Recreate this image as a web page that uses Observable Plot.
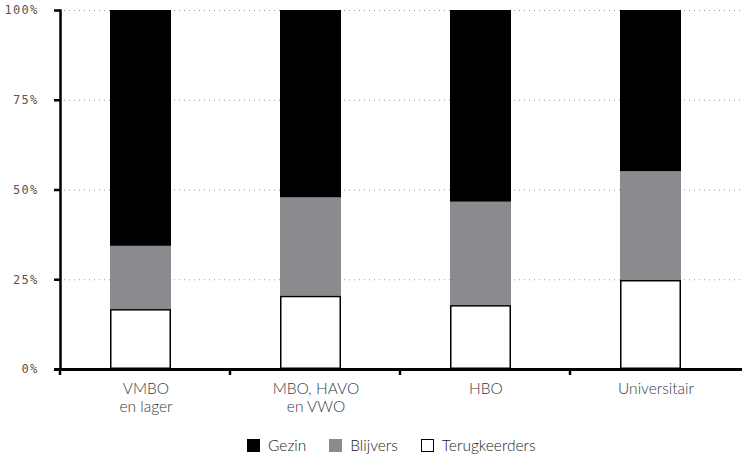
<!DOCTYPE html>
<html>
<head>
<meta charset="utf-8">
<script src="https://cdn.jsdelivr.net/npm/d3@7"></script>
<script src="https://cdn.jsdelivr.net/npm/@observablehq/plot@0.6"></script>
<style>
  body { margin: 0; background: #fff; }
  #chart { width: 742px; }
  #chart g[aria-label="y-axis tick label"] { letter-spacing: 1.3px; }
  .legend { display: flex; align-items: center; padding-left: 247px; margin-top: 18px; height: 18px;
            font-family: Lato, "Open Sans", sans-serif; font-weight: 300; font-size: 15.5px; color: #222; }
  .item { display: flex; align-items: center; margin-right: 23px; }
  .sw { width: 13px; height: 13px; box-sizing: border-box; margin-right: 8px; }
</style>
</head>
<body>
<div id="chart"></div>
<div class="legend" id="legend"></div>
<script>
const categories = ["VMBO\nen lager", "MBO, HAVO\nen VWO", "HBO", "Universitair"];
const terugkeerders = [16.7, 20.4, 17.8, 24.8];
const blijvers = [17.6, 27.4, 28.8, 30.3];
const gezin = [65.7, 52.2, 53.4, 44.9];
const seriesNames = ["Terugkeerders", "Blijvers", "Gezin"];
const seriesColors = ["#ffffff", "#8a8b8e", "#000000"];
const yTicks = [0, 25, 50, 75, 100];
const legendOrder = ["Gezin", "Blijvers", "Terugkeerders"];

const rows = categories.flatMap((c, i) => [
  {cat: c, series: "Terugkeerders", value: terugkeerders[i]},
  {cat: c, series: "Blijvers", value: blijvers[i]},
  {cat: c, series: "Gezin", value: gezin[i]}
]);

const plot = Plot.plot({
  width: 742,
  height: 418,
  marginLeft: 60,
  marginRight: 0,
  marginTop: 10,
  marginBottom: 49,
  style: {background: "#fff", overflow: "visible"},
  x: {domain: categories, paddingInner: 0.64, paddingOuter: 0.32, label: null},
  y: {domain: [0, 100], label: null},
  color: {domain: seriesNames, range: seriesColors},
  marks: [
    Plot.gridY(yTicks.filter(d => d > 0), {stroke: "#9a9a9a", strokeOpacity: 1, strokeDasharray: "1,4", insetLeft: 4}),
    Plot.barY(rows, {x: "cat", y: "value", fill: "series", order: seriesNames, dx: -5}),
    Plot.barY(rows.filter(d => d.series === "Terugkeerders"), {x: "cat", y: "value", fill: "white", stroke: "black", strokeWidth: 1.5, inset: 0.75, dx: -5}),
    Plot.axisY({ticks: yTicks, tickFormat: d => d + "%", tickSize: 6, tickPadding: 16, stroke: "black", strokeWidth: 2.5,
                fill: "#555", fontFamily: "DejaVu Sans Mono", fontSize: 12}),
    Plot.axisX({tickSize: 0, tickPadding: 11, fill: "#3a3a3a", fontFamily: "Lato", fontWeight: 300, fontSize: 15.5, lineHeight: 1.2}),
    Plot.frame({anchor: "left", stroke: "black", strokeWidth: 2.5}),
    Plot.ruleY([0], {stroke: "black", strokeWidth: 3, insetLeft: -6})
  ]
});

// ticks at the band boundaries, positioned with Plot's own x scale
const xs = plot.scale("x");
const svg = d3.select(plot.tagName === "svg" ? plot : plot.querySelector("svg"));
const yScale = plot.scale("y");
const y0 = yScale.apply(0);
for (let i = 0; i < categories.length; i++) {
  const bx = xs.range[0] + i * xs.step;
  svg.append("line").attr("x1", bx).attr("x2", bx).attr("y1", y0).attr("y2", y0 + 6)
    .attr("stroke", "black").attr("stroke-width", 2.5);
}

document.getElementById("chart").appendChild(plot);

const leg = document.getElementById("legend");
legendOrder.forEach(name => {
  const it = document.createElement("div");
  it.className = "item";
  const sw = document.createElement("div");
  sw.className = "sw";
  const col = seriesColors[seriesNames.indexOf(name)];
  sw.style.background = col;
  if (col === "#ffffff") sw.style.border = "1.5px solid #000";
  it.appendChild(sw);
  const t = document.createElement("span");
  t.textContent = name;
  it.appendChild(t);
  leg.appendChild(it);
});
</script>
</body>
</html>
